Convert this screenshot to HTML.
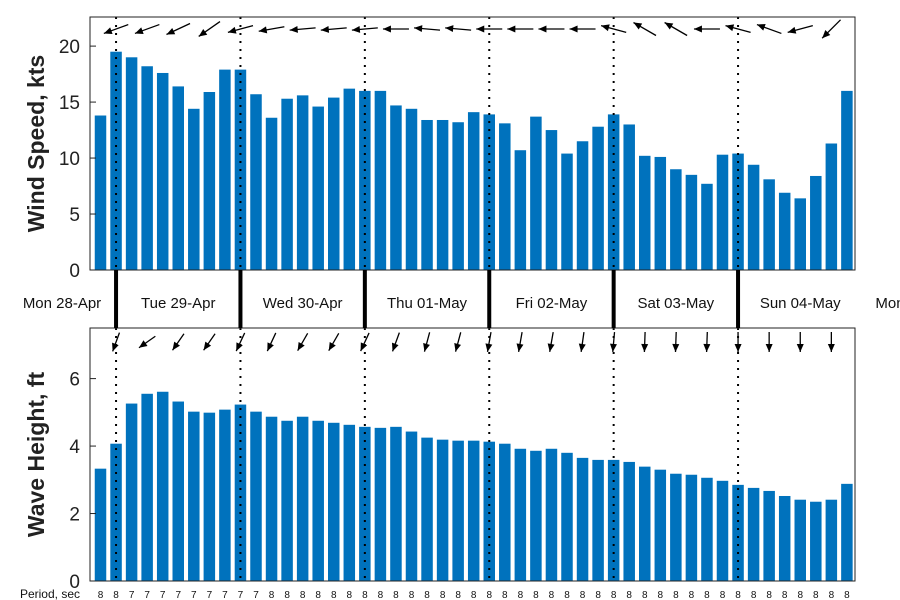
<!DOCTYPE html>
<html><head><meta charset="utf-8"><style>
body{margin:0;background:#fff}
svg{display:block;font-family:"Liberation Sans","DejaVu Sans",sans-serif}
</style></head><body>
<svg id="c" width="900" height="600" xmlns="http://www.w3.org/2000/svg"></svg>
<script>
const days = ["Mon 28-Apr","Tue 29-Apr","Wed 30-Apr","Thu 01-May","Fri 02-May","Sat 03-May","Sun 04-May","Mon"];
const windSpeed = [13.8,19.5,19.0,18.2,17.6,16.4,14.4,15.9,17.9,17.9,15.7,13.6,15.3,15.6,14.6,15.4,16.2,16.0,16.0,14.7,14.4,13.4,13.4,13.2,14.1,13.9,13.1,10.7,13.7,12.5,10.4,11.5,12.8,13.9,13.0,10.2,10.1,9.0,8.5,7.7,10.3,10.4,9.4,8.1,6.9,6.4,8.4,11.3,16.0];
const waveHeight = [3.33,4.07,5.26,5.55,5.61,5.32,5.02,4.99,5.08,5.23,5.02,4.87,4.75,4.87,4.75,4.69,4.63,4.57,4.54,4.57,4.43,4.25,4.19,4.16,4.16,4.13,4.07,3.92,3.86,3.92,3.80,3.65,3.59,3.59,3.53,3.39,3.30,3.18,3.15,3.06,2.97,2.85,2.76,2.67,2.52,2.41,2.35,2.41,2.88];
const period = [8,8,7,7,7,7,7,7,7,7,7,8,8,8,8,8,8,8,8,8,8,8,8,8,8,8,8,8,8,8,8,8,8,8,8,8,8,8,8,8,8,8,8,8,8,8,8,8,8];
const windDir = [250,250,245,235,255,260,265,265,265,270,275,275,270,270,270,270,285,300,300,270,285,290,255,225];
const waveDir = [200,235,215,215,205,205,210,210,205,200,195,195,190,190,190,188,185,182,182,182,180,180,180,180];
const windTicks = [0,5,10,15,20];
const waveTicks = [0,2,4,6];

const svg = document.getElementById('c');
const NS = "http://www.w3.org/2000/svg";
function el(tag, attrs, parent){const e=document.createElementNS(NS,tag);for(const k in attrs)e.setAttribute(k,attrs[k]);(parent||svg).appendChild(e);return e;}
const X0=90, X1=855;
const xOf = i => 100.5 + 15.55*i;
const barW = 11.5;
const topP = {y0:17, y1:270, max:22.6};
const botP = {y0:328, y1:581, max:7.5};
const yOf = (p,v) => p.y1 - v/p.max*(p.y1-p.y0);
const blue = "#0072BD";

function panel(p, data, ticks, title, name){
  const g = el('g',{});
  
  
  data.forEach((v,i)=>{
    const r = el('rect',{x:xOf(i)-barW/2,y:yOf(p,v),width:barW,height:p.y1-yOf(p,v),fill:blue},g);
    
    
  });
  for(let d=0; d<6; d++){
    const x = xOf(1+8*d);
    const l = el('line',{x1:x,x2:x,y1:p.y0,y2:p.y1,stroke:"#000","stroke-width":2,"stroke-dasharray":"2,6"},g);
    
    
  }
  const box = el('rect',{x:X0,y:p.y0,width:X1-X0,height:p.y1-p.y0,fill:"none",stroke:"#222","stroke-width":1},g);
  
  
  ticks.forEach(t=>{
    const y=yOf(p,t);
    el('line',{x1:X0,x2:X0+6,y1:y,y2:y,stroke:"#222"},g);
    const tx = el('text',{x:X0-10,y:y+7,"text-anchor":"end","font-size":19,fill:"#222"},g);
    tx.textContent=t;
    
    
  });
  const cy=(p.y0+p.y1)/2;
  const tt = el('text',{x:0,y:0,transform:`translate(44,${cy}) rotate(-90)`,"text-anchor":"middle","font-size":23,"font-weight":"bold",fill:"#222"},g);
  tt.textContent=title;
  
  
}
panel(topP, windSpeed, windTicks, "Wind Speed, kts", "wind");
panel(botP, waveHeight, waveTicks, "Wave Height, ft", "wave");

function arrows(dirs, cy, len, name){
  dirs.forEach((deg,k)=>{
    const x = xOf(1+2*k);
    const a = deg*Math.PI/180;
    const dx = Math.sin(a), dy = -Math.cos(a);
    const x1=x-dx*len/2, y1=cy-dy*len/2, x2=x+dx*len/2, y2=cy+dy*len/2;
    const g = el('g',{});
    
    
    el('line',{x1:x1,y1:y1,x2:x2,y2:y2,stroke:"#000","stroke-width":1.3},g);
    const px=-dy, py=dx, h=8, w=3.5;
    const bx=x2-dx*h, by=y2-dy*h;
    el('polygon',{points:`${x2},${y2} ${bx+px*w},${by+py*w} ${bx-px*w},${by-py*w}`,fill:"#000"},g);
  });
}
arrows(windDir, 29, 26, "wind-direction-arrow");
arrows(waveDir, 342, 20, "wave-direction-arrow");

for(let d=0; d<6; d++){
  const x = xOf(1+8*d);
  const l = el('line',{x1:x,x2:x,y1:270,y2:328,stroke:"#000","stroke-width":4});
  
  
}
days.forEach((d,i)=>{
  const x = i===0 ? 62 : (i===7 ? 890 : xOf(1+8*(i-1)+4));
  const t = el('text',{x:x,y:308,"text-anchor":"middle","font-size":15,fill:"#111"});
  t.textContent=d;
  
  
});
const pl = el('text',{x:80,y:598,"text-anchor":"end","font-size":12,fill:"#111"});
pl.textContent="Period, sec";


period.forEach((p,i)=>{
  const t = el('text',{x:xOf(i),y:598,"text-anchor":"middle","font-size":10,fill:"#111"});
  t.textContent=p;
  
  
});
</script>
</body></html>
